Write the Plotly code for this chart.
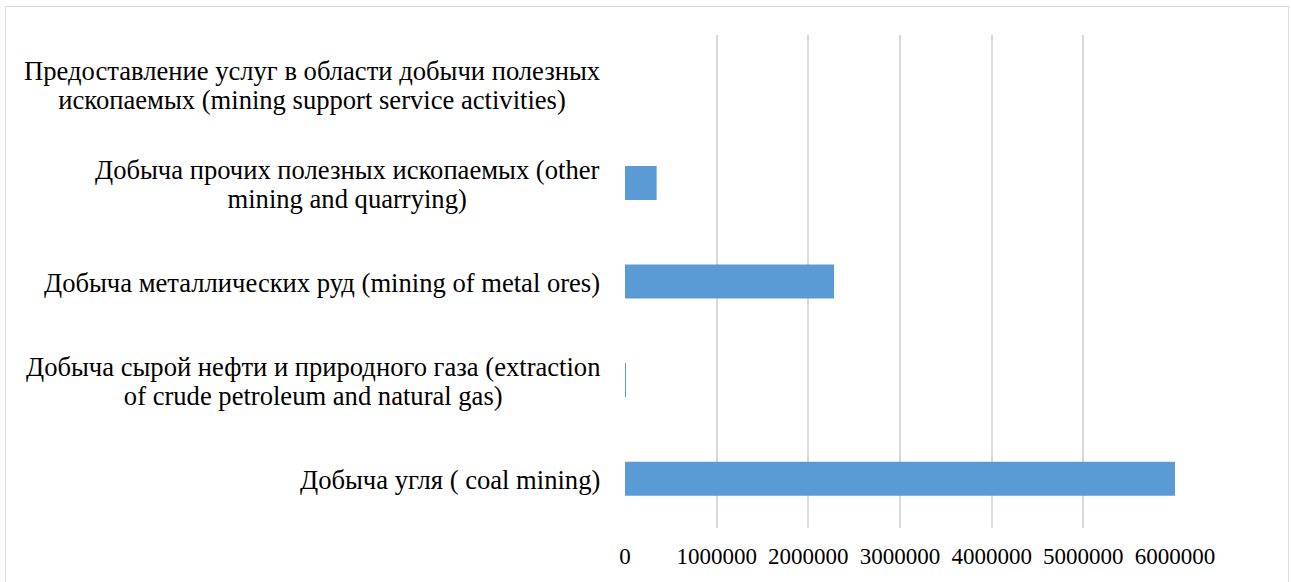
import plotly.graph_objects as go

categories = [
    "Добыча угля ( coal mining)",
    "Добыча сырой нефти и природного газа (extraction<br>of crude petroleum and natural gas)",
    "Добыча металлических руд (mining of metal ores)",
    "Добыча прочих полезных ископаемых (other<br>mining and quarrying)",
    "Предоставление услуг в области добычи полезных<br>ископаемых (mining support service activities)",
]
values = [6010000, 6000, 2280000, 345000, 0]
tick_values = [0, 1000000, 2000000, 3000000, 4000000, 5000000, 6000000]
tick_labels = ["0", "1000000", "2000000", "3000000", "4000000", "5000000", "6000000"]

W, H = 1291, 582
L, R, T, B = 625, 116, 35, 54
pw, ph = W - L - R, H - T - B
SERIF = "Liberation Serif, Times New Roman, serif"

fig = go.Figure()
fig.add_trace(go.Bar(
    y=categories, x=values, orientation="h",
    marker=dict(color="#5B9BD5", line=dict(width=0)),
    width=0.345, hoverinfo="x+y",
))

annotations = []
for c in categories:
    styled = "<br>".join('<span style="font-size:26.6px">%s</span>' % ln for ln in c.split("<br>"))
    annotations.append(dict(
        x=0, xref="paper", y=c, yref="y", text=styled, showarrow=False,
        xanchor="right", yanchor="middle", align="center", xshift=-23, yshift=-1.5,
        font=dict(family=SERIF, size=22.3, color="#000000"),
    ))

def px_x(p):
    return (p - L) / pw

def px_y(p):
    return (H - B - p) / ph

fig.update_layout(
    width=W, height=H,
    margin=dict(l=L, r=R, t=T, b=B),
    paper_bgcolor="white", plot_bgcolor="white",
    showlegend=False,
    annotations=annotations,
    shapes=[dict(type="rect", xref="paper", yref="paper",
                 x0=px_x(5.5), x1=px_x(1288.5), y0=px_y(620), y1=px_y(6.5),
                 line=dict(color="#D9D9D9", width=1), fillcolor="rgba(0,0,0,0)", layer="below")],
    xaxis=dict(
        range=[0, 6000000], tickmode="array", tickvals=tick_values, ticktext=tick_labels,
        showgrid=True, gridcolor="#D9D9D9", gridwidth=1.8,
        zeroline=False, showline=False, ticks="", ticklabelstandoff=12,
        tickfont=dict(family=SERIF, size=23, color="#000000"),
        fixedrange=True,
    ),
    yaxis=dict(
        type="category", categoryorder="array", categoryarray=categories,
        showticklabels=False, showgrid=False, zeroline=False, showline=False, ticks="",
        range=[-0.5, 4.5], fixedrange=True,
    ),
    font=dict(family=SERIF),
)

fig.write_html("out.html", config={"displayModeBar": False, "staticPlot": False},
               post_script="document.body.style.margin='0';document.body.style.overflow='hidden';")
